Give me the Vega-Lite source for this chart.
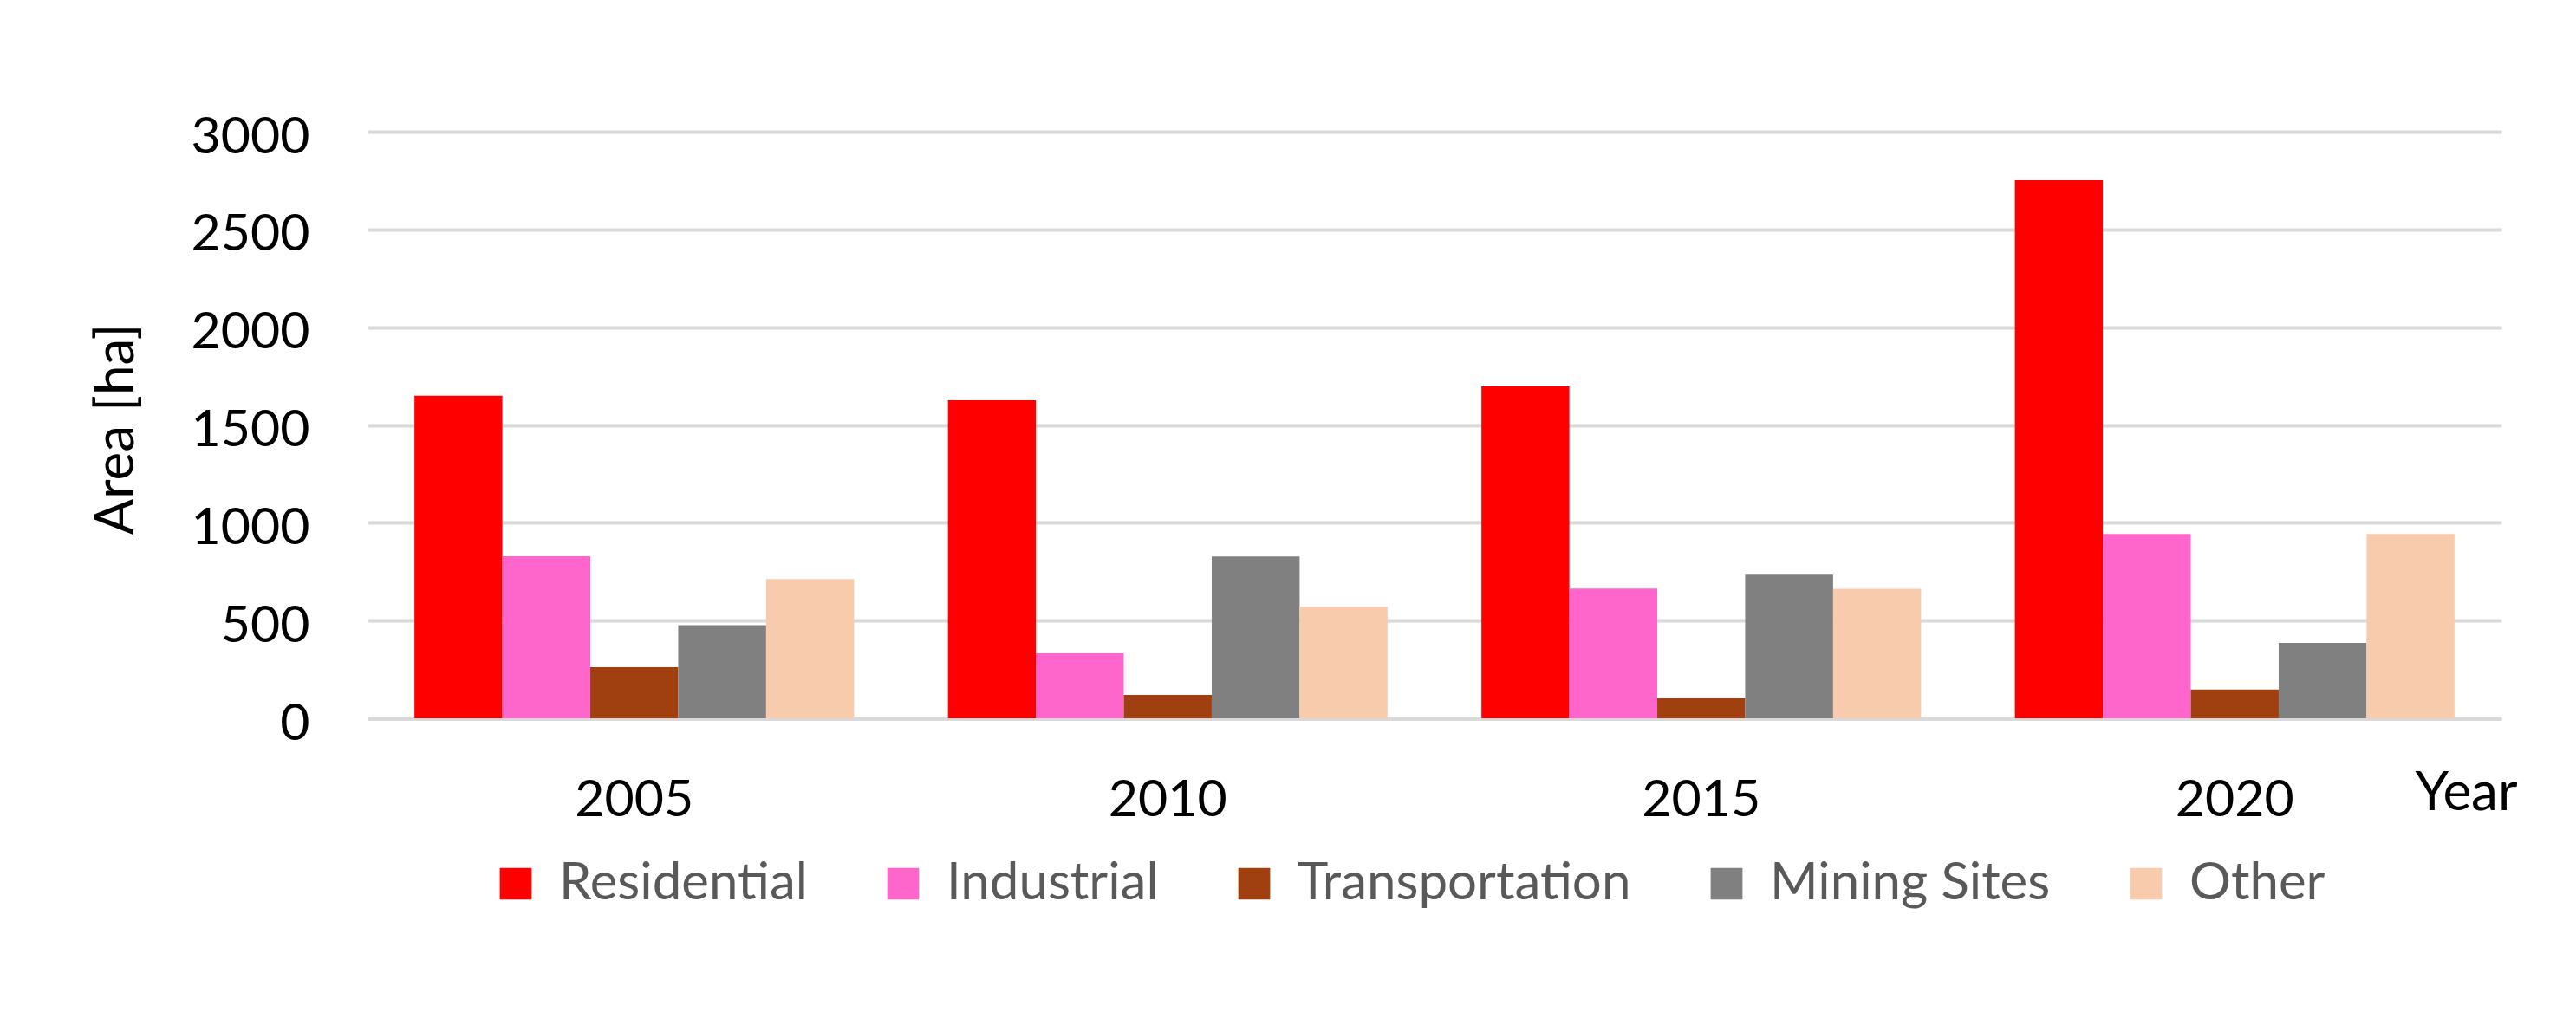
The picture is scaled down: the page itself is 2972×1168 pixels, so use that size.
{
  "$schema": "https://vega.github.io/schema/vega-lite/v6.json",
  "width": 2462,
  "height": 677,
  "autosize": {"type": "none"},
  "padding": {"left": 424, "top": 152, "right": 86, "bottom": 339},
  "background": "white",
  "config": {
    "view": {"stroke": null},
    "font": "Lato",
    "axis": {"labelFont": "Lato", "titleFont": "Lato"},
    "legend": {"labelFont": "Lato"}
  },
  "data": {
    "values": [
      {"Year": "2005", "Category": "Residential", "Area": 1650},
      {"Year": "2005", "Category": "Industrial", "Area": 829},
      {"Year": "2005", "Category": "Transportation", "Area": 262},
      {"Year": "2005", "Category": "Mining Sites", "Area": 476},
      {"Year": "2005", "Category": "Other", "Area": 712},
      {"Year": "2010", "Category": "Residential", "Area": 1626},
      {"Year": "2010", "Category": "Industrial", "Area": 332},
      {"Year": "2010", "Category": "Transportation", "Area": 120},
      {"Year": "2010", "Category": "Mining Sites", "Area": 827},
      {"Year": "2010", "Category": "Other", "Area": 570},
      {"Year": "2015", "Category": "Residential", "Area": 1697},
      {"Year": "2015", "Category": "Industrial", "Area": 664},
      {"Year": "2015", "Category": "Transportation", "Area": 102},
      {"Year": "2015", "Category": "Mining Sites", "Area": 735},
      {"Year": "2015", "Category": "Other", "Area": 662},
      {"Year": "2020", "Category": "Residential", "Area": 2752},
      {"Year": "2020", "Category": "Industrial", "Area": 943},
      {"Year": "2020", "Category": "Transportation", "Area": 147},
      {"Year": "2020", "Category": "Mining Sites", "Area": 385},
      {"Year": "2020", "Category": "Other", "Area": 943}
    ]
  },
  "mark": {"type": "bar"},
  "encoding": {
    "x": {
      "field": "Year",
      "type": "nominal",
      "scale": {"paddingInner": 0.176, "paddingOuter": 0.088},
      "axis": {
        "title": "Year",
        "titleX": 2421,
        "titleY": 86,
        "titleAlign": "center",
        "titleBaseline": "middle",
        "titleFontSize": 62,
        "titleFontWeight": "normal",
        "titleColor": "#000000",
        "labelAngle": 0,
        "labelFontSize": 59,
        "labelColor": "#000000",
        "labelBaseline": "middle",
        "labelPadding": 94,
        "ticks": false,
        "tickSize": 0,
        "domainColor": "#d9d9d9",
        "domainWidth": 5,
        "grid": false
      }
    },
    "xOffset": {
      "field": "Category",
      "type": "nominal",
      "sort": ["Residential", "Industrial", "Transportation", "Mining Sites", "Other"],
      "scale": {"paddingInner": 0, "paddingOuter": 0}
    },
    "y": {
      "field": "Area",
      "type": "quantitative",
      "scale": {"domain": [0, 3000], "nice": false},
      "axis": {
        "title": "Area [ha]",
        "titleX": -290,
        "titleY": 343,
        "titleAngle": -90,
        "titleAlign": "center",
        "titleBaseline": "middle",
        "titleFontSize": 62,
        "titleFontWeight": "normal",
        "titleColor": "#000000",
        "values": [0, 500, 1000, 1500, 2000, 2500, 3000],
        "format": "d",
        "labelFontSize": 59,
        "labelColor": "#000000",
        "labelPadding": 67,
        "labelOffset": 6,
        "ticks": false,
        "tickSize": 0,
        "domain": false,
        "grid": true,
        "gridColor": "#d9d9d9",
        "gridWidth": 4
      }
    },
    "color": {
      "field": "Category",
      "type": "nominal",
      "sort": ["Residential", "Industrial", "Transportation", "Mining Sites", "Other"],
      "scale": {
        "domain": ["Residential", "Industrial", "Transportation", "Mining Sites", "Other"],
        "range": ["#FF0000", "#FF66CC", "#A04010", "#808080", "#F8CBAD"]
      },
      "legend": {
        "title": null,
        "orient": "none",
        "direction": "horizontal",
        "legendX": 141,
        "legendY": 838,
        "symbolType": "square",
        "symbolSize": 1350,
        "symbolStrokeWidth": 0,
        "labelFontSize": 60,
        "labelLimit": 0,
        "labelColor": "#595959",
        "labelOffset": 20,
        "columnPadding": 80
      }
    }
  }
}
